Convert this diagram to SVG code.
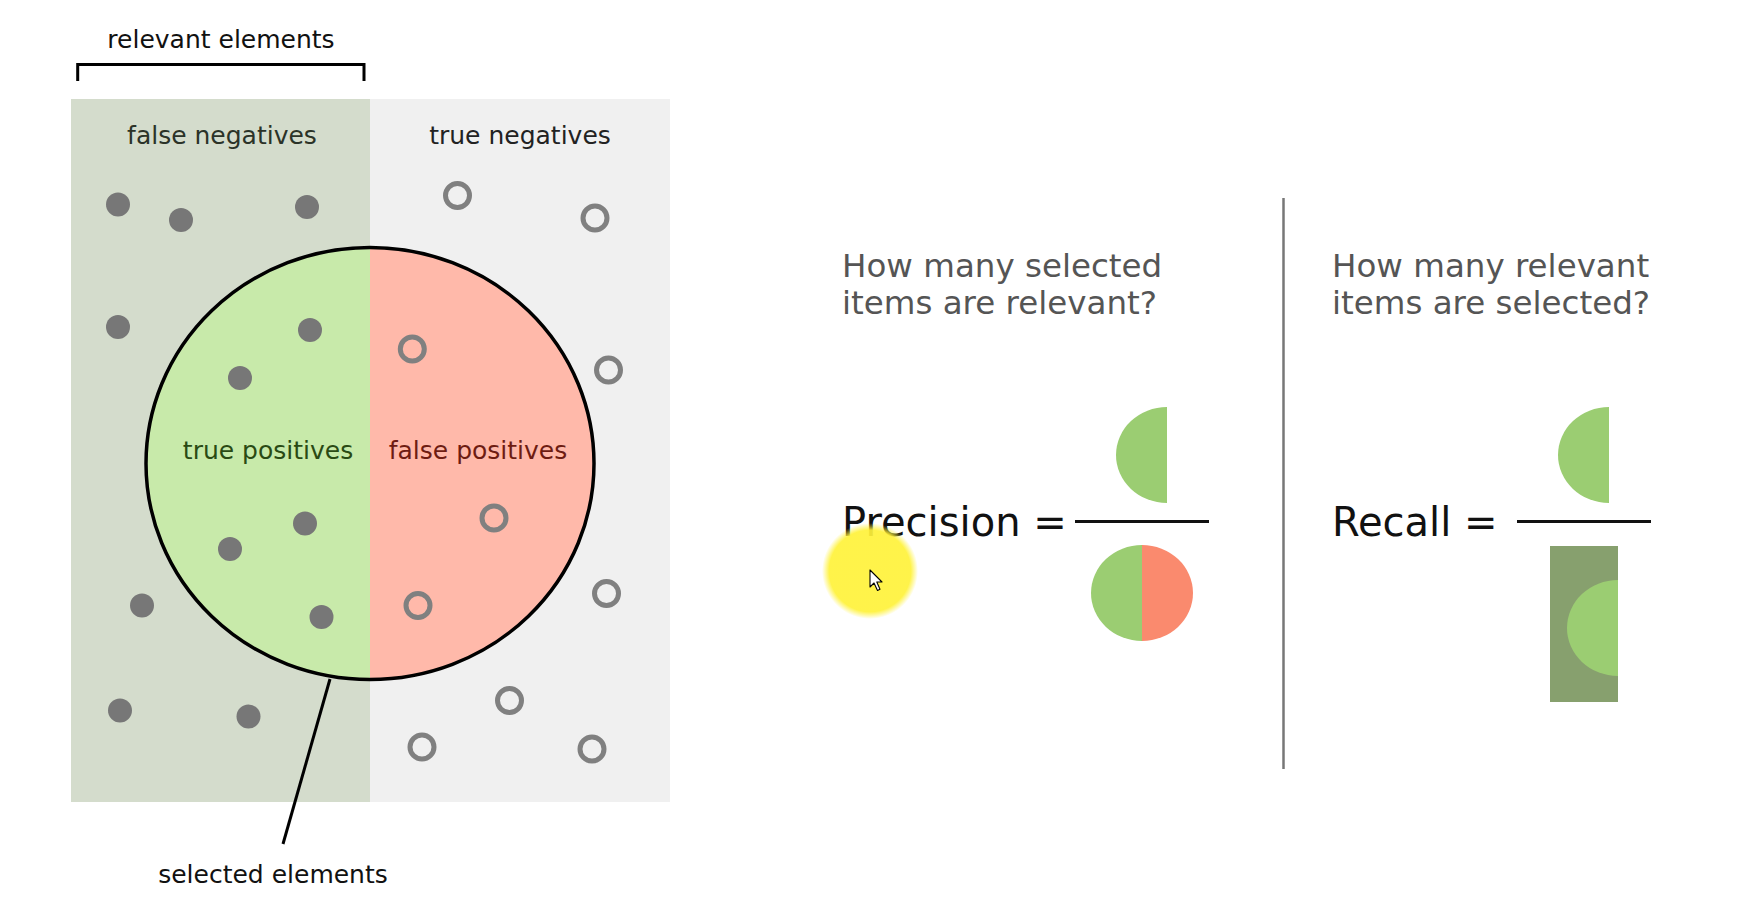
<svg xmlns="http://www.w3.org/2000/svg" width="1741" height="911" viewBox="0 0 1741 911">
<defs>
<style>
text{font-family:"DejaVu Sans","Liberation Sans",sans-serif;}
.lbl{font-size:25px;}
.dot{fill:#777777;}
.ring{fill:none;stroke:#808080;stroke-width:5;}
.q{font-size:32.5px;fill:#555555;}
.eq{font-size:40px;fill:#111111;}
.green{fill:#9bcd72;}
.salmon{fill:#fa8a6e;}
</style>
<clipPath id="selClip"><ellipse cx="370" cy="463.5" rx="224" ry="216"/></clipPath>
<clipPath id="rectClip"><rect x="1550" y="546" width="68" height="156"/></clipPath>
<radialGradient id="hl" cx="0.5" cy="0.5" r="0.5">
<stop offset="0" stop-color="#fff23a"/>
<stop offset="0.85" stop-color="#fff23a"/>
<stop offset="1" stop-color="#fff23a" stop-opacity="0"/>
</radialGradient>
</defs>
<rect width="1741" height="911" fill="#ffffff"/>

<g id="panels">
<rect x="71" y="99" width="299" height="703" fill="#d4dccc"/>
<rect x="370" y="99" width="300" height="703" fill="#f0f0f0"/>
</g>

<g id="selected">
<g clip-path="url(#selClip)">
<rect x="140" y="240" width="230" height="450" fill="#c8eaaa"/>
<rect x="370" y="240" width="230" height="450" fill="#ffb9aa"/>
</g>
<ellipse cx="370" cy="463.5" rx="224" ry="216" fill="none" stroke="#000" stroke-width="3.5"/>
</g>

<g id="labels">
<text class="lbl" x="221" y="48" text-anchor="middle" fill="#111">relevant elements</text>
<text class="lbl" x="222" y="144" text-anchor="middle" fill="#2b3328">false negatives</text>
<text class="lbl" x="520" y="144" text-anchor="middle" fill="#222">true negatives</text>
<text class="lbl" x="268" y="459" text-anchor="middle" fill="#2a4a14">true positives</text>
<text class="lbl" x="478" y="459" text-anchor="middle" fill="#6e1c12">false positives</text>
<text class="lbl" x="273" y="883" text-anchor="middle" fill="#111">selected elements</text>
</g>

<g id="connectors" fill="none" stroke="#000" stroke-width="3">
<path d="M77.7,81 V64.5 H364 V81"/>
<line x1="330" y1="679" x2="283" y2="844"/>
</g>

<g id="relevant-dots">
<circle class="dot" cx="118" cy="204.5" r="12"/>
<circle class="dot" cx="181" cy="220" r="12"/>
<circle class="dot" cx="307" cy="207" r="12"/>
<circle class="dot" cx="118" cy="327" r="12"/>
<circle class="dot" cx="310" cy="330" r="12"/>
<circle class="dot" cx="240" cy="378" r="12"/>
<circle class="dot" cx="305" cy="523.5" r="12"/>
<circle class="dot" cx="230" cy="549" r="12"/>
<circle class="dot" cx="142" cy="605.5" r="12"/>
<circle class="dot" cx="321.5" cy="617" r="12"/>
<circle class="dot" cx="120" cy="710.5" r="12"/>
<circle class="dot" cx="248.5" cy="716.5" r="12"/>
</g>

<g id="irrelevant-rings">
<circle class="ring" cx="457.5" cy="195.5" r="12"/>
<circle class="ring" cx="595" cy="218" r="12"/>
<circle class="ring" cx="412.3" cy="349" r="12"/>
<circle class="ring" cx="608.5" cy="370" r="12"/>
<circle class="ring" cx="494" cy="518" r="12"/>
<circle class="ring" cx="418" cy="605.5" r="12"/>
<circle class="ring" cx="606.5" cy="593.5" r="12"/>
<circle class="ring" cx="509.5" cy="700.5" r="12"/>
<circle class="ring" cx="422" cy="747" r="12"/>
<circle class="ring" cx="592" cy="749" r="12"/>
</g>

<g id="separator">
<line x1="1283.5" y1="198" x2="1283.5" y2="769" stroke="#777" stroke-width="2.5"/>
</g>

<g id="precision">
<text class="q" x="842" y="277">How many selected</text>
<text class="q" x="842" y="314">items are relevant?</text>
<text class="eq" x="842" y="536">Precision =</text>
<line x1="1075" y1="521.5" x2="1209" y2="521.5" stroke="#111" stroke-width="3"/>
<path class="green" d="M1167,407 A51,48 0 0 0 1167,503 Z"/>
<path class="green" d="M1142,545 A51,48 0 0 0 1142,641 Z"/>
<path class="salmon" d="M1142,545 A51,48 0 0 1 1142,641 Z"/>
</g>

<g id="recall">
<text class="q" x="1332" y="277">How many relevant</text>
<text class="q" x="1332" y="314">items are selected?</text>
<text class="eq" x="1332" y="536">Recall =</text>
<line x1="1517" y1="521.5" x2="1651" y2="521.5" stroke="#111" stroke-width="3"/>
<path class="green" d="M1609,407 A51,48 0 0 0 1609,503 Z"/>
<rect x="1550" y="546" width="68" height="156" fill="#87a06e"/>
<path class="green" d="M1618,580 A51,48 0 0 0 1618,676 Z" clip-path="url(#rectClip)"/>
</g>

<g id="cursor-highlight">
<circle cx="870" cy="571" r="48" fill="url(#hl)" opacity="0.92"/>
<path d="M870,570 L870,587 L874,583 L877.5,590.5 L880,589.3 L876.8,582 L882,582 Z" fill="#fff" stroke="#000" stroke-width="1.1" stroke-linejoin="round"/>
</g>
</svg>
